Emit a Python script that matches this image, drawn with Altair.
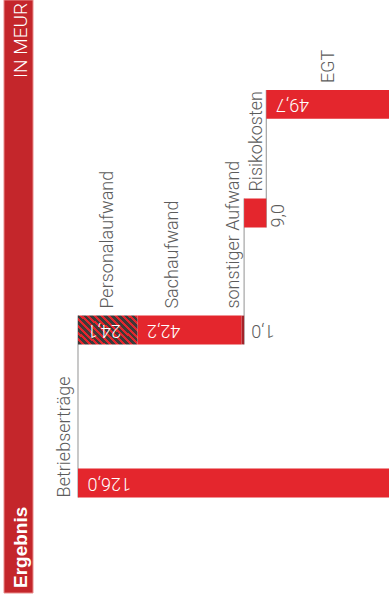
import altair as alt
import pandas as pd

# ---- data ----
CATEGORIES = ["Betriebserträge", "Personalaufwand", "Sachaufwand",
              "sonstiger Aufwand", "Risikokosten", "EGT"]
AMOUNTS = [126.0, -24.1, -42.2, -1.0, -9.0, 49.7]
IS_TOTAL = [True, False, False, False, False, True]
VALUE_TEXT = ["126,0", "24,1", "42,2", "1,0", "9,0", "49,7"]

# ---- layout ----
ROW_OF = [0, 1, 1, 1, 2, 3]            # the three expense items share one row
ROW_CENTER = [0.0, 5.1, 9.0, 12.62]    # row centres on the y scale (1 unit = 30 px)
HALF = 0.48                            # half bar thickness in row units
NAME_AT = ["end", "mid", "mid", "mid", "mid", "mid"]
NAME_NUDGE = [-7.5, 5.5, -11.5, -3.5, 6.5, 6.5]
VALUE_AT = ["end", "end", "end", "end", "side", "end"]

# ---- style ----
BAR_FILL = ["red", "hatch", "red", "dark", "red", "red"]
RED = "#E4262D"
DARK_RED = "#A3232A"
HATCH_DARK = "#3D3A3A"
BAND_RED = "#C4262B"
GREY_TEXT = "#5C5C5C"
LINE_GREY = "#ABABAB"
FONT = "Roboto"
W, H = 389, 609

# ---- waterfall geometry from the amounts ----
rows = []
level = 0.0
for i, (cat, amt, tot) in enumerate(zip(CATEGORIES, AMOUNTS, IS_TOTAL)):
    if tot:
        lo, hi = 0.0, amt
        level = amt
    else:
        hi = level
        lo = level + amt
        level = lo
    c = ROW_CENTER[ROW_OF[i]]
    rows.append(dict(cat=cat, lo=lo, hi=hi, mid=(lo + hi) / 2, yc=c,
                     ybot=c - HALF, ytop=c + HALF, row=ROW_OF[i],
                     fill=BAR_FILL[i], label=VALUE_TEXT[i],
                     value_at=VALUE_AT[i], level=level))
bars = pd.DataFrame(rows)

conn_rows = []
for r in range(len(ROW_CENTER) - 1):
    lvl = bars[bars.row == r].iloc[-1]["level"]
    conn_rows.append(dict(level=lvl, y0=ROW_CENTER[r] - HALF,
                          y1=ROW_CENTER[r + 1] + HALF))
connectors = pd.DataFrame(conn_rows)

x_scale = alt.Scale(domain=[0, 157.6], reverse=True, nice=False, zero=False)
y_scale = alt.Scale(domain=[-4.2, 16.1], nice=False, zero=False)


def X(field):
    return alt.X(f"{field}:Q", scale=x_scale, axis=None)


def Y(field):
    return alt.Y(f"{field}:Q", scale=y_scale, axis=None)


# diagonal stripes for the personnel-cost segment
N_STRIPES = 13
stops = []
for k in range(N_STRIPES):
    a, b, c = k / N_STRIPES, (k + 0.55) / N_STRIPES, (k + 1) / N_STRIPES
    stops += [alt.GradientStop(offset=a, color=HATCH_DARK),
              alt.GradientStop(offset=b, color=HATCH_DARK),
              alt.GradientStop(offset=b, color=RED),
              alt.GradientStop(offset=c, color=RED)]
hatch = alt.LinearGradient(gradient="linear", stops=stops,
                           x1=0, y1=1, x2=1.2, y2=0.4)

layers = []

# header band
one = pd.DataFrame({"k": [0]})
layers.append(
    alt.Chart(one).mark_rect(fill=BAND_RED, stroke="#E98C8C", strokeWidth=1)
    .encode(x=alt.value(4), x2=alt.value(33), y=alt.value(0), y2=alt.value(593))
)
layers.append(
    alt.Chart(one).mark_text(text="Ergebnis", angle=270, align="left",
                             baseline="alphabetic", font="Liberation Sans",
                             fontWeight="bold", fontSize=19, color="white")
    .encode(x=alt.value(27), y=alt.value(588))
)
layers.append(
    alt.Chart(one).mark_text(text="IN MEUR", angle=270, align="left",
                             baseline="alphabetic", font=FONT, fontWeight=300,
                             fontSize=19, color="white")
    .encode(x=alt.value(27), y=alt.value(78))
)

# connectors between rows
layers.append(
    alt.Chart(connectors).mark_rule(color=LINE_GREY, strokeWidth=1.3)
    .encode(x=X("level"), y=Y("y0"), y2="y1")
)

# bars
for kind, fill in [("red", RED), ("dark", DARK_RED), ("hatch", hatch)]:
    layers.append(
        alt.Chart(bars).transform_filter(alt.datum.fill == kind)
        .mark_rect(fill=fill)
        .encode(x=X("lo"), x2="hi", y=Y("ybot"), y2="ytop")
    )

# category names
for i, row in bars.iterrows():
    one_row = bars.iloc[[i]]
    if NAME_AT[i] == "end":
        xf, yf, yoff = "hi", "ybot", 0
    else:
        xf, yf, yoff = "mid", "ytop", -7
    layers.append(
        alt.Chart(one_row).mark_text(angle=270, align="left", baseline="alphabetic",
                                     font=FONT, fontWeight=300, fontSize=18,
                                     color=GREY_TEXT, xOffset=NAME_NUDGE[i],
                                     yOffset=yoff)
        .encode(x=X(xf), y=Y(yf), text="cat:N")
    )

# values at the high end of each segment (upside down)
layers.append(
    alt.Chart(bars).transform_filter(alt.datum.value_at == "end")
    .mark_text(angle=180, align="right", baseline="middle", font=FONT,
               fontWeight=300, fontSize=18, xOffset=9.5)
    .encode(x=X("hi"), y=Y("yc"), text="label:N",
            color=alt.condition("datum.hi - datum.lo > 5",
                                alt.value("white"), alt.value(GREY_TEXT)))
)
# values set beside their bar
layers.append(
    alt.Chart(bars).transform_filter(alt.datum.value_at == "side")
    .mark_text(angle=270, align="left", baseline="top", font=FONT,
               fontWeight=300, fontSize=18, color=GREY_TEXT, xOffset=4)
    .encode(x=X("lo"), y=Y("ybot"), text="label:N")
)

chart = (
    alt.layer(*layers)
    .properties(width=W, height=H, autosize="none", padding=0, background="white")
    .configure_view(stroke=None)
)

chart.save("out.html", embed_options={"renderer": "svg", "actions": False})
